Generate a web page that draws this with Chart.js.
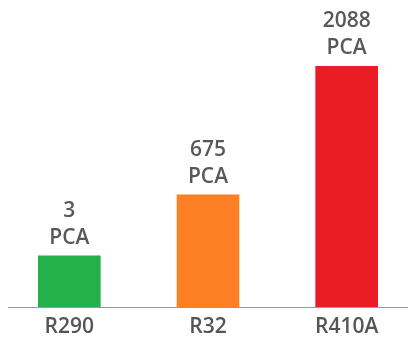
<!DOCTYPE html>
<html>
<head>
<meta charset="utf-8">
<script src="https://cdn.jsdelivr.net/npm/chart.js@4/dist/chart.umd.min.js"></script>
<style>
  html, body { margin: 0; padding: 0; background: #fff; overflow: hidden; }
  #wrap { width: 408px; height: 342px; overflow: hidden; }
</style>
</head>
<body>
<div id="wrap"><canvas id="chart" width="416" height="342"></canvas></div>
<script>
// refrigerants and their PCA
var gaz = ["R290", "R32", "R410A"];
var pca = [3, 675, 2088];
var unite = "PCA";

// value labels over each bar + the baseline
var etiquettes = {
  id: "etiquettes",
  afterDatasetsDraw: function (chart) {
    var ctx = chart.ctx;
    var meta = chart.getDatasetMeta(0);
    var area = chart.chartArea;
    ctx.save();
    ctx.strokeStyle = "#9a9a9a";
    ctx.lineWidth = 1.2;
    ctx.beginPath();
    ctx.moveTo(area.left + 8, area.bottom + 0.5);
    ctx.lineTo(area.right, area.bottom + 0.5);
    ctx.stroke();

    ctx.fillStyle = "#585858";
    ctx.font = "600 21px 'Open Sans'";
    ctx.textAlign = "center";
    ctx.textBaseline = "middle";
    meta.data.forEach(function (bar, i) {
      ctx.fillText(pca[i], bar.x, bar.y - 45);
      ctx.fillText(unite, bar.x, bar.y - 18);
    });
    ctx.restore();
  }
};

var chart = new Chart("chart", {
  type: "bar",
  data: {
    labels: gaz,
    datasets: [{
      data: pca,
      base: -561,
      backgroundColor: ["#24b04b", "#fd8024", "#ec1c24"],
      barThickness: 62
    }]
  },
  options: {
    responsive: false,
    animation: false,
    layout: { padding: { top: 0, left: 0, right: 0, bottom: 0 } },
    plugins: { legend: { display: false }, tooltip: { enabled: false } },
    scales: {
      y: { display: false, min: -561, max: 2819 },
      x: {
        grid: { display: false, drawTicks: false },
        border: { display: false },
        ticks: { color: "#555", font: { family: "'Open Sans'", size: 21, weight: "600" }, padding: 7 },
        afterFit: function (scale) { scale.height = 35; }
      }
    }
  },
  plugins: [etiquettes]
});
</script>
</body>
</html>
